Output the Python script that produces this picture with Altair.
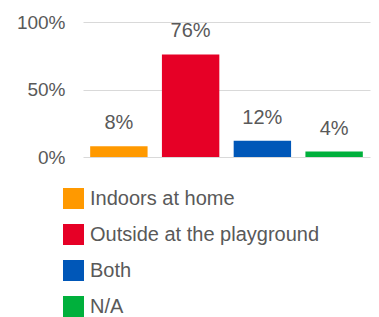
import altair as alt
import pandas as pd

categories = ["Indoors at home", "Outside at the playground", "Both", "N/A"]
values = [0.08, 0.76, 0.12, 0.04]
colors = ["#FF9900", "#E60026", "#0057B8", "#00B03C"]

df = pd.DataFrame({"category": categories, "value": values})

font = "Liberation Sans"
txt = "#595959"

x = alt.X("category:N", sort=categories, axis=None,
          scale=alt.Scale(paddingInner=0.2, paddingOuter=0.1))
y = alt.Y("value:Q", scale=alt.Scale(domain=[0, 1]),
          axis=alt.Axis(values=[0, 0.5, 1], format=".0%", title=None,
                        domain=False, ticks=False, labelFontSize=19,
                        labelColor=txt, labelFont=font, labelPadding=18,
                        gridColor="#D9D9D9", gridWidth=1.2))

bars = alt.Chart(df).mark_bar().encode(
    x=x, y=y,
    color=alt.Color("category:N", sort=categories,
                    scale=alt.Scale(domain=categories, range=colors),
                    legend=alt.Legend(title=None, orient="none", legendX=-20, legendY=166,
                                      symbolType="square", symbolSize=441,
                                      symbolStrokeWidth=0, labelFontSize=20,
                                      labelFont=font, labelColor=txt, labelOffset=6,
                                      rowPadding=15, padding=0, labelLimit=400,
                                      symbolOpacity=1)),
)

labels = alt.Chart(df).mark_text(baseline="bottom", dy=-13, fontSize=20,
                                 font=font, color=txt).encode(
    x=x, y=y, text=alt.Text("value:Q", format=".0%")
)

chart = (bars + labels).properties(
    width=287, height=135,
    autosize=alt.AutoSizeParams(type="none"),
    padding={"left": 75, "top": 14, "right": 1, "bottom": 160},
    background="white",
).configure_view(stroke=None)

chart.save("out.html", embed_options={"renderer": "svg", "actions": False})
